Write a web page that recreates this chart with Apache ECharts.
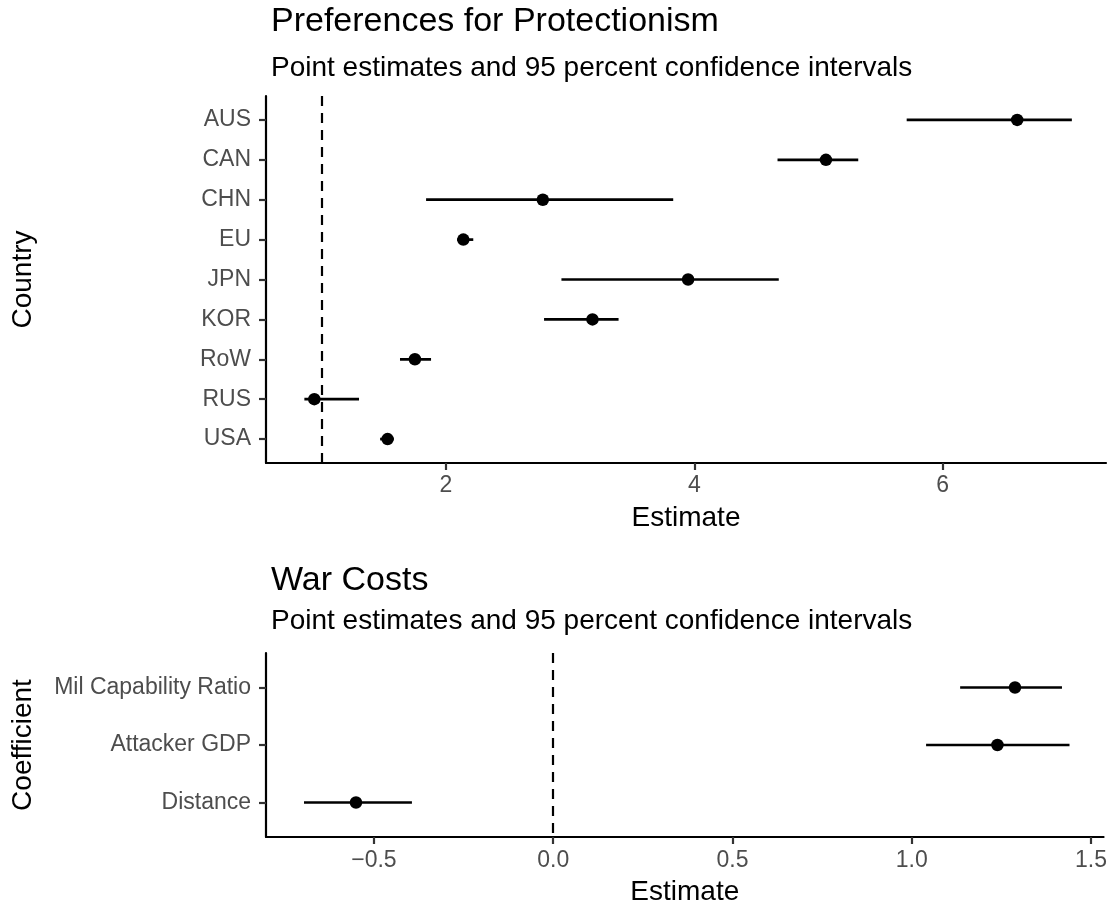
<!DOCTYPE html>
<html><head><meta charset="utf-8">
<script src="https://cdn.jsdelivr.net/npm/echarts@6/dist/echarts.min.js"></script>
<style>html,body{margin:0;padding:0;background:#fff}#c{width:1110px;height:907px}</style>
</head><body><div id="c"></div>
<script>
// ---- data ----
const countries = ['AUS','CAN','CHN','EU','JPN','KOR','RoW','RUS','USA'];
const countryEst = [6.60, 5.06, 2.78, 2.14, 3.95, 3.18, 1.75, 0.94, 1.53];
const countryLo  = [5.71, 4.67, 1.84, 2.09, 2.93, 2.79, 1.63, 0.86, 1.47];
const countryHi  = [7.04, 5.32, 3.83, 2.22, 4.68, 3.39, 1.88, 1.30, 1.58];
const topTicks = [2, 4, 6];
const topRef = 1;

const coefs = ['Mil Capability Ratio','Attacker GDP','Distance'];
const coefEst = [1.288, 1.239, -0.550];
const coefLo  = [1.135, 1.040, -0.695];
const coefHi  = [1.419, 1.440, -0.394];
const bottomTicks = [-0.5, 0, 0.5, 1, 1.5];
const bottomTickLabels = ['\u22120.5', '0.0', '0.5', '1.0', '1.5'];
const bottomRef = 0;

const FONT = 'Liberation Sans, Arial, Helvetica, sans-serif';
const chart = echarts.init(document.getElementById('c'), null, {renderer: 'canvas'});

function idx(n) { return Array.from({length: n}, (_, i) => i); }

function xAxisCfg(gridIndex, min, max, ticks, fmt, labelMargin) {
  return {
    type: 'value', gridIndex, min, max,
    splitLine: {show: false},
    axisLine: {show: true, onZero: false, lineStyle: {color: '#000', width: 2.2}},
    axisTick: {show: true, length: 7, lineStyle: {color: '#333', width: 2.2}, customValues: ticks},
    axisLabel: {show: true, color: '#4d4d4d', fontSize: 23, fontFamily: FONT, margin: labelMargin,
      customValues: ticks, formatter: fmt},
    name: 'Estimate', nameLocation: 'middle', nameGap: 41,
    nameTextStyle: {color: '#000', fontSize: 28, fontFamily: FONT}
  };
}
function yAxisCfg(gridIndex, cats, title) {
  return {
    type: 'value', gridIndex, inverse: true, min: -0.6, max: cats.length - 1 + 0.6,
    splitLine: {show: false},
    axisLine: {show: true, onZero: false, lineStyle: {color: '#000', width: 2.2}},
    axisTick: {show: true, length: 7, lineStyle: {color: '#333', width: 2.2}, customValues: idx(cats.length)},
    axisLabel: {show: true, color: '#4d4d4d', fontSize: 23, fontFamily: FONT, margin: 15,
      customValues: idx(cats.length), formatter: v => cats[Math.round(v)]},
    name: title, nameLocation: 'middle', nameGap: 229, nameRotate: 90,
    nameTextStyle: {color: '#000', fontSize: 28, fontFamily: FONT}
  };
}
function errorBars(xi, yi, lo, hi) {
  return {
    type: 'custom', xAxisIndex: xi, yAxisIndex: yi,
    data: lo.map((l, i) => [l, hi[i], i]),
    encode: {x: [0, 1], y: 2},
    renderItem: function (params, api) {
      const a = api.coord([api.value(0), api.value(2)]);
      const b = api.coord([api.value(1), api.value(2)]);
      return {type: 'line', shape: {x1: a[0], y1: a[1], x2: b[0], y2: b[1]},
        style: {stroke: '#000', lineWidth: 2.7}};
    },
    silent: true, z: 2
  };
}
function points(xi, yi, est, ref) {
  return {
    type: 'scatter', xAxisIndex: xi, yAxisIndex: yi,
    data: est.map((v, i) => [v, i]),
    symbol: 'circle', symbolSize: 12.5,
    itemStyle: {color: '#000', opacity: 1}, z: 3, silent: true,
    markLine: {
      silent: true, symbol: ['none', 'none'], label: {show: false},
      lineStyle: {color: '#000', width: 2.2, type: [10, 7], opacity: 1},
      data: [{xAxis: ref}], animation: false
    }
  };
}

const option = {
  animation: false,
  backgroundColor: '#fff',
  title: [
    {text: 'Preferences for Protectionism', left: 266, top: 0,
      textStyle: {fontSize: 34, fontWeight: 'normal', color: '#000', fontFamily: FONT}},
    {text: 'Point estimates and 95 percent confidence intervals', left: 266, top: 49,
      textStyle: {fontSize: 28, fontWeight: 'normal', color: '#000', fontFamily: FONT}},
    {text: 'War Costs', left: 266, top: 559,
      textStyle: {fontSize: 34, fontWeight: 'normal', color: '#000', fontFamily: FONT}},
    {text: 'Point estimates and 95 percent confidence intervals', left: 266, top: 602,
      textStyle: {fontSize: 28, fontWeight: 'normal', color: '#000', fontFamily: FONT}}
  ],
  grid: [
    {left: 266, right: 4, top: 96, height: 367},
    {left: 266, right: 4, top: 653, height: 184}
  ],
  xAxis: [
    xAxisCfg(0, 0.551, 7.315, topTicks, v => String(v), 11),
    xAxisCfg(1, -0.801, 1.535, bottomTicks, v => bottomTickLabels[bottomTicks.indexOf(v)] ?? String(v), 12)
  ],
  yAxis: [
    yAxisCfg(0, countries, 'Country'),
    yAxisCfg(1, coefs, 'Coefficient')
  ],
  series: [
    errorBars(0, 0, countryLo, countryHi),
    points(0, 0, countryEst, topRef),
    errorBars(1, 1, coefLo, coefHi),
    points(1, 1, coefEst, bottomRef)
  ]
};
chart.setOption(option);
</script>
</body></html>
